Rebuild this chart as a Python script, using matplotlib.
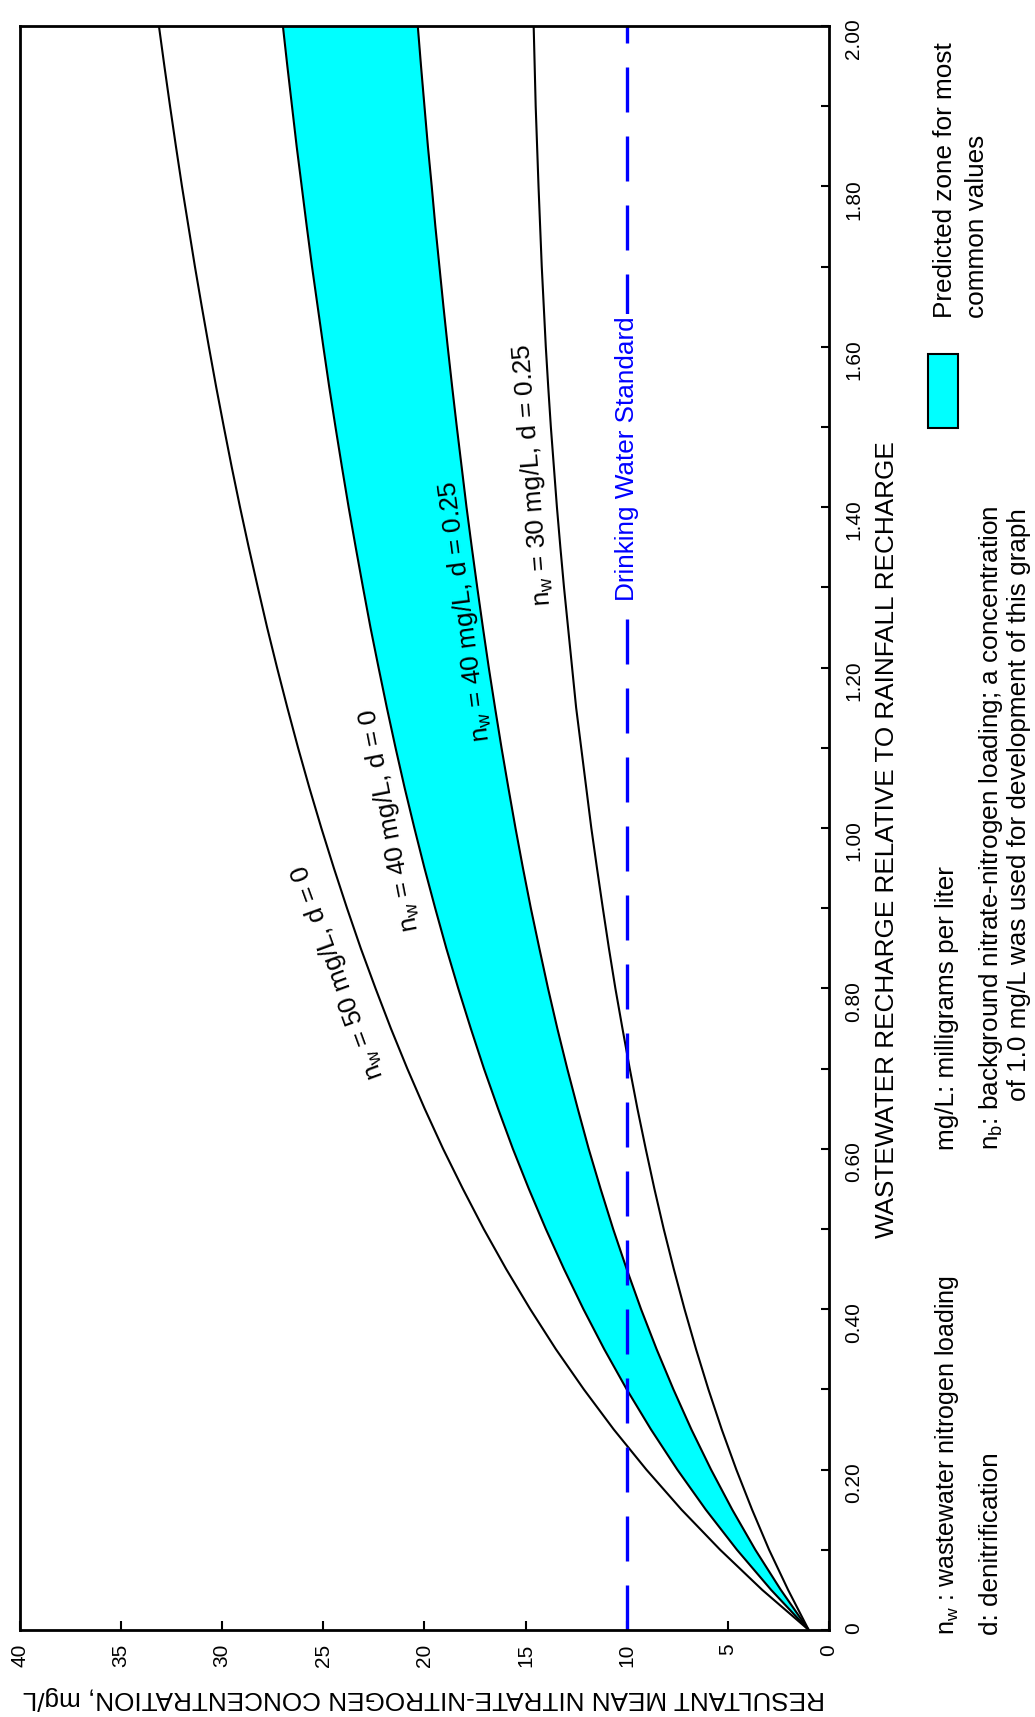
import matplotlib.pyplot as plt
from matplotlib.patches import Rectangle

plt.rcParams['font.family'] = ['Liberation Sans', 'DejaVu Sans']
plt.rcParams['mathtext.default'] = 'regular'

# wastewater recharge relative to rainfall recharge
ratio = [0.0, 0.05, 0.1, 0.15, 0.2, 0.25, 0.3, 0.35, 0.4, 0.45, 0.5,
         0.55, 0.6, 0.65, 0.7, 0.75, 0.8, 0.85, 0.9, 0.95, 1.0,
         1.05, 1.1, 1.15, 1.2, 1.25, 1.3, 1.35, 1.4, 1.45, 1.5,
         1.55, 1.6, 1.65, 1.7, 1.75, 1.8, 1.85, 1.9, 1.95, 2.0]

# resultant nitrate-nitrogen (mg/L)
nw50_d0 = [1.0, 3.30, 5.38, 7.29, 9.03, 10.64, 12.12, 13.50, 14.77, 15.96, 17.07,
           18.10, 19.08, 19.99, 20.85, 21.66, 22.42, 23.15, 23.83, 24.48, 25.10,
           25.69, 26.25, 26.78, 27.29, 27.78, 28.24, 28.69, 29.12, 29.53, 29.92,
           30.30, 30.66, 31.01, 31.35, 31.67, 31.99, 32.29, 32.58, 32.86, 33.13]
nw40_d0 = [1.0, 2.86, 4.55, 6.09, 7.50, 8.80, 10.00, 11.11, 12.14, 13.10, 14.00,
           14.84, 15.63, 16.36, 17.06, 17.71, 18.33, 18.92, 19.47, 20.00, 20.50,
           20.98, 21.43, 21.86, 22.27, 22.67, 23.04, 23.40, 23.75, 24.08, 24.40,
           24.71, 25.00, 25.28, 25.56, 25.82, 26.07, 26.32, 26.55, 26.78, 27.00]
nw40_d025 = [1.0, 2.38, 3.64, 4.78, 5.83, 6.80, 7.69, 8.52, 9.29, 10.00, 10.67,
             11.29, 11.88, 12.42, 12.94, 13.43, 13.89, 14.32, 14.74, 15.13, 15.50,
             15.85, 16.19, 16.51, 16.82, 17.11, 17.39, 17.66, 17.92, 18.16, 18.40,
             18.63, 18.85, 19.06, 19.26, 19.46, 19.64, 19.83, 20.00, 20.17, 20.33]
nw30_d025 = [1.0, 2.02, 2.96, 3.80, 4.58, 5.30, 5.96, 6.57, 7.14, 7.67, 8.17,
             8.63, 9.06, 9.47, 9.85, 10.21, 10.56, 10.88, 11.18, 11.47, 11.75,
             12.00, 12.25, 12.50, 12.70, 12.90, 13.10, 13.28, 13.45, 13.60, 13.75,
             13.88, 14.00, 14.10, 14.20, 14.28, 14.36, 14.43, 14.50, 14.55, 14.60]

standard = 10

conc_ticks = [0, 5, 10, 15, 20, 25, 30, 35, 40]
ratio_major = [0.0, 0.2, 0.4, 0.6, 0.8, 1.0, 1.2, 1.4, 1.6, 1.8, 2.0]
ratio_minor = [0.1, 0.3, 0.5, 0.7, 0.9, 1.1, 1.3, 1.5, 1.7, 1.9]
ratio_labels = ['0', '0.20', '0.40', '0.60', '0.80', '1.00',
                '1.20', '1.40', '1.60', '1.80', '2.00']

cyan = '#00ffff'
blue = '#0000ff'
fs = 18.8

fig = plt.figure(figsize=(10.35, 17.17), dpi=100)
ax = fig.add_axes([0.0193, 0.0507, 0.7816, 0.9342])

ax.fill_betweenx(ratio, nw40_d025, nw40_d0, color=cyan, lw=0)
for curve in [nw50_d0, nw40_d0, nw40_d025, nw30_d025]:
    ax.plot(curve, ratio, color='black', lw=1.5)

ax.plot([standard, standard], [ratio[0], ratio[-1]], color=blue, lw=2.4,
        ls=(0, (13.5, 7.2)))
ax.text(standard, 1.46, 'Drinking Water Standard', rotation=90, color=blue,
        fontsize=fs, ha='center', va='center',
        bbox=dict(facecolor='white', edgecolor='none', pad=2))

# curve labels
ax.text(24.3, 0.82, r'$n_w$ = 50 mg/L, d = 0', rotation=110, fontsize=fs,
        ha='center', va='center')
ax.text(21.7, 1.01, r'$n_w$ = 40 mg/L, d = 0', rotation=101, fontsize=fs,
        ha='center', va='center')
ax.text(18.0, 1.27, r'$n_w$ = 40 mg/L, d = 0.25', rotation=97.4, fontsize=fs,
        ha='center', va='center')
ax.text(14.65, 1.44, r'$n_w$ = 30 mg/L, d = 0.25', rotation=94.5, fontsize=fs,
        ha='center', va='center')

ax.set_xlim(40, 0)
ax.set_ylim(0, 2)
for s in ax.spines.values():
    s.set_linewidth(2)

ax.set_xticks(conc_ticks)
ax.set_xticklabels([str(t) for t in conc_ticks], rotation=90)
ax.yaxis.tick_right()
ax.set_yticks(ratio_major)
ax.set_yticklabels(ratio_labels, rotation=90)
ax.set_yticks(ratio_minor, minor=True)
ax.tick_params(axis='x', direction='in', length=6.5, width=1.5, pad=10,
               labelsize=15, bottom=True, top=False)
ax.tick_params(axis='y', which='both', direction='in', length=5.8, width=1.5,
               pad=11, labelsize=15, right=True, left=False)

fig.text(0.41, 0.011, 'RESULTANT MEAN NITRATE-NITROGEN CONCENTRATION, mg/L',
         rotation=180, ha='center', va='center', fontsize=fs)
fig.text(0.857, 0.511, 'WASTEWATER RECHARGE RELATIVE TO RAINFALL RECHARGE',
         rotation=90, ha='center', va='center', fontsize=fs)

# notes
fig.text(0.915, 0.0478, r'$n_w$ : wastewater nitrogen loading', rotation=90,
         ha='center', va='bottom', fontsize=18)
fig.text(0.9575, 0.0478, 'd: denitrification', rotation=90,
         ha='center', va='bottom', fontsize=fs)
fig.text(0.915, 0.330, 'mg/L: milligrams per liter', rotation=90,
         ha='center', va='bottom', fontsize=fs)
fig.text(0.9575, 0.330, r'$n_b$: background nitrate-nitrogen loading; a concentration',
         rotation=90, ha='center', va='bottom', fontsize=fs)
fig.text(0.9845, 0.359, 'of 1.0 mg/L was used for development of this graph',
         rotation=90, ha='center', va='bottom', fontsize=fs)

# legend for the shaded zone
fig.patches.append(Rectangle((0.8966, 0.7507), 0.029, 0.0431, transform=fig.transFigure,
                             facecolor=cyan, edgecolor='black', lw=1.5))
fig.text(0.913, 0.8148, 'Predicted zone for most', rotation=90,
         ha='center', va='bottom', fontsize=fs)
fig.text(0.944, 0.8148, 'common values', rotation=90,
         ha='center', va='bottom', fontsize=fs)

fig.savefig('out.png', dpi=100)
